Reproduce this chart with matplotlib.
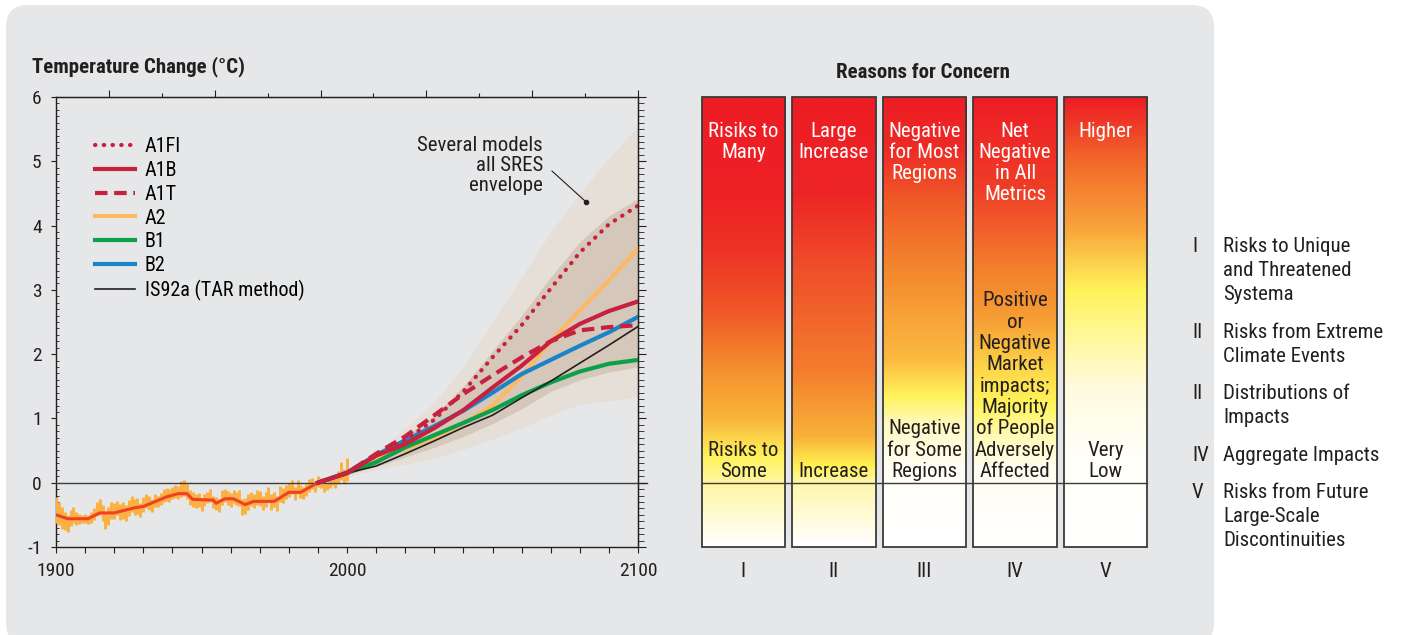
import numpy as np
import matplotlib
matplotlib.use('Agg')
import matplotlib.pyplot as plt
from matplotlib.colors import LinearSegmentedColormap
from matplotlib.lines import Line2D
from matplotlib.patches import FancyBboxPatch, Rectangle
from matplotlib.transforms import Affine2D, blended_transform_factory

plt.rcParams['font.family'] = ['Roboto Condensed', 'Archivo Narrow', 'DejaVu Sans']
plt.rcParams['axes.unicode_minus'] = False

# ---------------- data ----------------
# observed record: annual spread (orange) and smoothed curve (red)
obs_years = list(range(1900, 2001))
obs_hi = [-0.22, -0.30, -0.38, -0.45, -0.50, -0.42, -0.38, -0.45, -0.48, -0.50,
          -0.48, -0.50, -0.45, -0.40, -0.30, -0.26, -0.35, -0.45, -0.38, -0.30,
          -0.32, -0.28, -0.33, -0.30, -0.34, -0.27, -0.20, -0.25, -0.24, -0.32,
          -0.22, -0.17, -0.20, -0.26, -0.18, -0.20, -0.16, -0.10, -0.08, -0.09,
          -0.06, -0.04, -0.05, 0.02, 0.05, -0.02, -0.12, -0.15, -0.18, -0.16,
          -0.24, -0.17, -0.14, -0.10, -0.20, -0.22, -0.25, -0.12, -0.10, -0.13,
          -0.16, -0.12, -0.14, -0.12, -0.26, -0.24, -0.18, -0.14, -0.18, -0.12,
          -0.13, -0.20, -0.14, -0.06, -0.18, -0.14, -0.20, -0.05, -0.08, -0.04,
          0.00, 0.04, -0.06, 0.05, -0.04, -0.06, -0.02, 0.06, 0.08, 0.02,
          0.10, 0.08, -0.02, 0.00, 0.06, 0.12, 0.08, 0.18, 0.32, 0.22, 0.38]
obs_lo = [-0.62, -0.66, -0.72, -0.74, -0.76, -0.68, -0.62, -0.66, -0.64, -0.62,
          -0.62, -0.64, -0.62, -0.58, -0.52, -0.50, -0.60, -0.72, -0.66, -0.56,
          -0.56, -0.50, -0.58, -0.56, -0.60, -0.52, -0.46, -0.50, -0.48, -0.54,
          -0.46, -0.40, -0.42, -0.46, -0.38, -0.38, -0.34, -0.30, -0.28, -0.30,
          -0.26, -0.24, -0.26, -0.22, -0.20, -0.26, -0.34, -0.38, -0.40, -0.38,
          -0.44, -0.36, -0.32, -0.30, -0.40, -0.42, -0.46, -0.34, -0.30, -0.34,
          -0.38, -0.32, -0.34, -0.36, -0.50, -0.48, -0.42, -0.36, -0.40, -0.34,
          -0.36, -0.42, -0.38, -0.28, -0.42, -0.38, -0.44, -0.30, -0.32, -0.26,
          -0.22, -0.18, -0.27, -0.18, -0.24, -0.26, -0.20, -0.14, -0.10, -0.14,
          -0.06, -0.08, -0.14, -0.12, -0.08, -0.04, -0.08, -0.02, 0.04, -0.02, 0.02]
smooth_years = [1900, 1904, 1911, 1915, 1920, 1927, 1930, 1938, 1942, 1945, 1947,
                1954, 1955, 1958, 1961, 1965, 1968, 1975, 1980, 1984, 1990]
smooth_temp = [-0.50, -0.56, -0.56, -0.47, -0.47, -0.39, -0.37, -0.22, -0.17, -0.17, -0.26,
               -0.27, -0.32, -0.25, -0.25, -0.34, -0.29, -0.29, -0.15, -0.15, 0.00]

# projections
proj_years = [1990, 2000, 2010, 2020, 2030, 2040, 2050, 2060, 2070, 2080, 2090, 2100]
a1fi = [0, 0.15, 0.42, 0.66, 0.98, 1.42, 1.95, 2.45, 3.02, 3.58, 4.02, 4.31]
a1b = [0, 0.15, 0.42, 0.60, 0.85, 1.13, 1.48, 1.82, 2.20, 2.47, 2.67, 2.82]
a1t = [0, 0.15, 0.45, 0.72, 1.05, 1.38, 1.67, 1.95, 2.20, 2.37, 2.42, 2.45]
a2 = [0, 0.15, 0.37, 0.52, 0.70, 0.92, 1.20, 1.65, 2.20, 2.68, 3.15, 3.64]
b1 = [0, 0.15, 0.32, 0.55, 0.74, 0.93, 1.13, 1.36, 1.56, 1.73, 1.85, 1.91]
b2 = [0, 0.16, 0.43, 0.66, 0.88, 1.12, 1.40, 1.69, 1.91, 2.13, 2.34, 2.58]
is92a = [0, 0.15, 0.26, 0.45, 0.65, 0.86, 1.05, 1.32, 1.58, 1.86, 2.14, 2.43]

env_outer_hi = [0, 0.20, 0.47, 0.85, 1.25, 1.80, 2.50, 3.20, 3.90, 4.50, 5.05, 5.55]
env_outer_lo = [0, 0.10, 0.20, 0.28, 0.38, 0.52, 0.68, 0.85, 1.05, 1.22, 1.28, 1.32]
env_inner_hi = [0, 0.17, 0.43, 0.72, 1.05, 1.50, 2.05, 2.60, 3.20, 3.75, 4.15, 4.42]
env_inner_lo = [0, 0.13, 0.25, 0.40, 0.55, 0.72, 0.92, 1.15, 1.42, 1.60, 1.72, 1.80]

scenario_names = ['A1FI', 'A1B', 'A1T', 'A2', 'B1', 'B2', 'IS92a (TAR method)']

# reasons for concern
concern_ids = ['I', 'II', 'III', 'IV', 'V']
concern_top = [['Risiks to', 'Many'], ['Large', 'Increase'],
               ['Negative', 'for Most', 'Regions'],
               ['Net', 'Negative', 'in All', 'Metrics'], ['Higher']]
concern_bottom = [['Risiks to', 'Some'], ['Increase'],
                  ['Negative', 'for Some', 'Regions'],
                  ['Positive', 'or', 'Negative', 'Market', 'impacts;', 'Majority',
                   'of People', 'Adversely', 'Affected'],
                  ['Very', 'Low']]
# (temperature, colour) stops for the shading of each bar
concern_shading = [
    [(-1, '#ffffff'), (0, '#fff6a0'), (0.4, '#fff25a'), (1.0, '#fab33a'), (1.75, '#f5912e'),
     (2.6, '#f05a28'), (3.6, '#ee3326'), (4.5, '#ed2125'), (6, '#ed1c24')],
    [(-1, '#ffffff'), (0, '#fff7a8'), (0.25, '#fff250'), (0.7, '#f9b23a'), (1.75, '#f47d2c'),
     (3.3, '#f0502a'), (4.5, '#ed2526'), (6, '#ed1c24')],
    [(-1, '#ffffff'), (0.2, '#fffef6'), (0.9, '#fff9c0'), (1.35, '#fff35a'), (1.9, '#fbbb40'),
     (3.3, '#f4882e'), (4.4, '#f05a28'), (5.2, '#ee2b25'), (6, '#ed1c24')],
    [(-1, '#ffffff'), (0.2, '#fffdf0'), (0.7, '#fffab8'), (1.2, '#fff45a'), (1.75, '#fdd84a'),
     (2.5, '#f6a035'), (3.3, '#f3812d'), (4.6, '#ef3d27'), (6, '#ed1c24')],
    [(-1, '#ffffff'), (0.4, '#fffff8'), (1.45, '#fffbe0'), (2.2, '#fff8a0'), (3.0, '#fff35a'),
     (4.0, '#f8a23a'), (5.0, '#f26a2b'), (5.6, '#ef3b27'), (6, '#ed1c24')],
]

key_ids = ['I', 'II', 'II', 'IV', 'V']
key_text = [['Risks to Unique', 'and Threatened', 'Systema'],
            ['Risks from Extreme', 'Climate Events'],
            ['Distributions of', 'Impacts'],
            ['Aggregate Impacts'],
            ['Risks from Future', 'Large-Scale', 'Discontinuities']]

# ---------------- figure ----------------
W, H = 1403, 635
INK = '#231f20'
FS = 15        # most labels
FS_LEG = 14.5  # scenario legend
FS_TICK = 14   # tick labels
fig = plt.figure(figsize=(W / 100, H / 100), dpi=100)
fig.patch.set_facecolor('white')
px = Affine2D().scale(1, -1).translate(0, H)   # pixel coordinates from the top left

panel = FancyBboxPatch((6, 5), 1208, 640, boxstyle='round,pad=0,rounding_size=22',
                       transform=px, fc='#e6e7e8', ec='none', zorder=-10)
fig.add_artist(panel)

# temperature chart
ax = fig.add_axes([56 / W, (H - 547) / H, 582 / W, 450 / H])
ax.patch.set_visible(False)
ax.fill_between(proj_years, env_outer_lo, env_outer_hi, color='#e6dfd8', lw=0, zorder=1)
ax.fill_between(proj_years, env_inner_lo, env_inner_hi, color='#d5c8bb', lw=0, zorder=2)
ax.vlines(obs_years, obs_lo, obs_hi, color='#fbb040', lw=2.1, zorder=3)
ax.axhline(0, color='#3c3c3c', lw=1.0, xmax=1.015, clip_on=False, zorder=3.5)
ax.plot(smooth_years, smooth_temp, color='#ef4123', lw=2.2, zorder=4)

RED = '#c8203f'
styles = {
    'A1FI': dict(color=RED, lw=3, ls=(0, (0.1, 2.0)), dash_capstyle='round'),
    'A1B': dict(color=RED, lw=3),
    'A1T': dict(color=RED, lw=3, ls=(0, (3, 1.6))),
    'A2': dict(color='#fdb863', lw=3),
    'B1': dict(color='#0ca04a', lw=3),
    'B2': dict(color='#1b84c6', lw=3),
    'IS92a (TAR method)': dict(color=INK, lw=1.2),
}
series = {'A1FI': a1fi, 'A1B': a1b, 'A1T': a1t, 'A2': a2, 'B1': b1, 'B2': b2,
          'IS92a (TAR method)': is92a}
for name in ['A2', 'B1', 'IS92a (TAR method)', 'B2', 'A1B', 'A1T', 'A1FI']:
    ax.plot(proj_years, series[name], zorder=5, **styles[name])

handles = [Line2D([], [], **styles[n]) for n in scenario_names]
ax.legend(handles, scenario_names, loc='upper left', bbox_to_anchor=(95, 137),
          bbox_transform=px, frameon=False, fontsize=FS_LEG, handlelength=1.98,
          handletextpad=0.5, labelspacing=0.24, borderpad=0, borderaxespad=0)

ax.annotate('', xy=(2082.1, 4.37), xytext=(2070.4, 4.85),
            arrowprops=dict(arrowstyle='-', lw=0.8, color=INK, shrinkA=0, shrinkB=0))
ax.plot([2082.1], [4.37], 'o', color=INK, ms=3, zorder=6)
for k, line in enumerate(['Several models', 'all SRES', 'envelope']):
    fig.text(543, 150.7 + 20 * k, line, transform=px, ha='right', va='baseline',
             fontsize=FS, color=INK)

ax.set_xlim(1900, 2100)
ax.set_ylim(-1, 6)
xt = list(range(1900, 2101, 10))
ax.set_xticks(xt)
ax.set_xticklabels([str(t) if t % 100 == 0 else '' for t in xt])
ax.set_yticks(range(-1, 7))
ax.set_yticks(np.arange(-1, 6.001, 0.1), minor=True)
ax.tick_params(axis='x', direction='out', length=4.3, width=0.8, pad=6.3,
               labelsize=FS_TICK, colors=INK)
ax.tick_params(axis='y', which='major', direction='out', length=3.6, width=0.8,
               pad=6.7, labelsize=FS_TICK, colors=INK)
ax.tick_params(axis='y', which='minor', direction='in', length=2, width=0.6, colors=INK)
for s in ax.spines.values():
    s.set_color(INK)
    s.set_linewidth(1.0)

# right-hand ticks
ay2 = ax.twinx()
ay2.patch.set_visible(False)
ay2.set_ylim(-1, 6)
ay2.set_yticks(range(-1, 7))
ay2.set_yticks(np.arange(-1, 6.001, 0.1), minor=True)
ay2.tick_params(axis='y', which='major', direction='out', length=6, width=0.8,
                labelright=False, colors=INK)
ay2.tick_params(axis='y', which='minor', direction='out', length=4.5, width=0.6, colors=INK)
for side in ['left', 'top', 'bottom']:
    ay2.spines[side].set_visible(False)
ay2.spines['right'].set_color(INK)

# top ticks (11 equal steps)
ax2 = ax.twiny()
ax2.patch.set_visible(False)
ax2.set_xlim(0, 11)
ax2.set_xticks(range(1, 12, 2))
ax2.set_xticks(range(2, 11, 2), minor=True)
ax2.tick_params(axis='x', which='major', direction='out', length=5, width=0.8,
                labeltop=False, colors=INK)
ax2.tick_params(axis='x', which='minor', direction='out', length=3, width=0.8, colors=INK)
for side in ['left', 'right', 'bottom']:
    ax2.spines[side].set_visible(False)
ax2.spines['top'].set_color(INK)

fig.text(32, 72.3, 'Temperature Change (°C)', transform=px, va='baseline',
         fontsize=FS, fontweight='bold', color=INK)

# reasons for concern bars
axr = fig.add_axes([698 / W, (H - 547) / H, 453 / W, 450 / H])
axr.set_axis_off()
grad = np.linspace(-1, 6, 400).reshape(-1, 1)
for i, stops in enumerate(concern_shading):
    cmap = LinearSegmentedColormap.from_list('c%d' % i, [((v + 1) / 7, c) for v, c in stops])
    axr.imshow(grad, cmap=cmap, vmin=-1, vmax=6, origin='lower', aspect='auto',
               extent=[i + 0.04, i + 0.96, -1, 6], zorder=1)
    axr.add_patch(Rectangle((i + 0.04, -1), 0.92, 7, fill=False, ec='#3a3a3a', lw=1.3,
                            zorder=3, clip_on=False))
axr.axhline(0, xmin=0.04 / 5, xmax=4.96 / 5, color='#3a3a3a', lw=1.0, zorder=2)
axr.set_xlim(0, 5)
axr.set_ylim(-1, 6)

tb = blended_transform_factory(axr.transData, px)
for i in range(5):
    for k, line in enumerate(concern_top[i]):
        axr.text(i + 0.5, 137.3 + 21 * k, line, transform=tb, ha='center', va='baseline',
                 color='white', fontsize=FS, zorder=4)
    lines = concern_bottom[i]
    n = len(lines)
    for k, line in enumerate(lines):
        axr.text(i + 0.5, 477.3 - 21.4 * (n - 1 - k), line, transform=tb, ha='center',
                 va='baseline', color=INK, fontsize=FS, zorder=4)
    axr.text(i + 0.5, 576.7, concern_ids[i], transform=tb, ha='center', va='baseline',
             color=INK, fontsize=FS)

fig.text(923, 77.7, 'Reasons for Concern', transform=px, ha='center', va='baseline',
         fontsize=FS, fontweight='bold', color=INK)

# key on the right
key_base = [252.3, 338.3, 399, 461, 498.3]
for rid, lines, y0 in zip(key_ids, key_text, key_base):
    fig.text(1192, y0, rid, transform=px, va='baseline', fontsize=FS, color=INK)
    for k, line in enumerate(lines):
        fig.text(1223, y0 + 24 * k, line, transform=px, va='baseline', fontsize=FS, color=INK)

fig.savefig('out.png', dpi=100)
